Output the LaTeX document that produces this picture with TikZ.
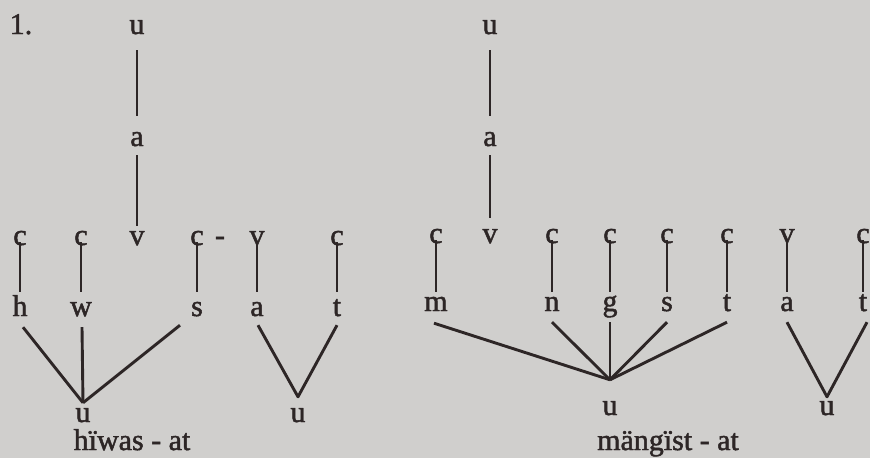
\documentclass[tikz,border=0pt]{standalone}
\usepackage{fontspec}
\setmainfont{Liberation Serif}
\newfontfamily\heavyserif{Liberation Serif}[FakeBold=1.6]
\definecolor{paper}{RGB}{208,207,205}
\definecolor{ink}{RGB}{45,38,38}
\begin{document}
\begin{tikzpicture}[x=1pt,y=-1pt,
  lt/.style={font=\heavyserif\fontsize{30}{32}\selectfont, text=ink, inner sep=0pt, anchor=base, text height=13pt, text depth=0pt},
  ln/.style={draw=ink, line width=2.9pt},
  vln/.style={ln, shorten <=-3pt, shorten >=#1},
  vln/.default=11pt
]
\fill[paper] (0,0) rectangle (870,458);
\useasboundingbox (0,0) rectangle (870,458);

% ---------- left diagram ----------
\node[lt] (one) at (21,34) {1.};
\node[lt] (uL) at (137,34) {u};
\node[lt] (aL) at (137,146) {a};
\node[lt] (vL) at (137,245) {v};
\draw[ln, shorten <=16pt, shorten >=17pt] (uL.south) -- (aL.north);
\draw[ln, shorten <=9pt, shorten >=6pt] (aL.south) -- (vL.north);

\node[lt] (cA) at (20,245) {c};
\node[lt] (cB) at (81,245) {c};
\node[lt] (cC) at (197,245) {c};
\node[lt] (dash) at (220,245) {-};
\node[lt] (vA) at (257,245) {v};
\node[lt] (cD) at (337,245) {c};

\node[lt] (h) at (20,316) {h};
\node[lt] (w) at (81,316) {w};
\node[lt] (sL) at (197,316) {s};
\node[lt] (aLL) at (257,316) {a};
\node[lt] (tL) at (337,316) {t};

\draw[vln] (cA.south) -- (h.north);
\draw[vln] (cB.south) -- (w.north);
\draw[vln] (cC.south) -- (sL.north);
\draw[vln] (vA.south) -- (aLL.north);
\draw[vln] (cD.south) -- (tL.north);

\node[lt] (uL1) at (83,422) {u};
\node[lt] (uL2) at (298,422) {u};
\draw[ln] ([shift={(3pt,-11pt)}]h.south) -- ([yshift=6pt]uL1.north);
\draw[ln] ([shift={(1pt,-11pt)}]w.south) -- ([yshift=6pt]uL1.north);
\draw[ln] ([shift={(-17pt,-9pt)}]sL.south) -- ([yshift=6pt]uL1.north);
\draw[ln, line join=round] ([shift={(1pt,-9pt)}]aLL.south) -- ([yshift=12pt]uL2.north) -- ([shift={(0pt,-9pt)}]tL.south);

\node[lt] (capL) at (132,450) {hïwas - at};

% ---------- right diagram ----------
\node[lt] (uR) at (490,34) {u};
\node[lt] (aR) at (490,146) {a};
\node[lt] (vR) at (490,243) {v};
\draw[ln, shorten <=16pt, shorten >=17pt] (uR.south) -- (aR.north);
\draw[ln, shorten <=9pt, shorten >=12pt] (aR.south) -- (vR.north);

\node[lt] (cE) at (436,243) {c};
\node[lt] (cF) at (552,243) {c};
\node[lt] (cG) at (610,243) {c};
\node[lt] (cH) at (667,243) {c};
\node[lt] (cI) at (727,243) {c};
\node[lt] (vB) at (787,243) {v};
\node[lt] (cJ) at (863,243) {c};

\node[lt] (m) at (436,311) {m};
\node[lt] (n) at (552,311) {n};
\node[lt] (g) at (610,311) {g};
\node[lt] (sR) at (667,311) {s};
\node[lt] (tR) at (727,311) {t};
\node[lt] (aRR) at (787,311) {a};
\node[lt] (tRR) at (863,311) {t};

\draw[vln=6pt] (cE.south) -- (m.north);
\draw[vln=6pt] (cF.south) -- (n.north);
\draw[vln=6pt] (cG.south) -- (g.north);
\draw[vln=6pt] (cH.south) -- (sR.north);
\draw[vln=6pt] (cI.south) -- (tR.north);
\draw[vln=6pt] (vB.south) -- (aRR.north);
\draw[vln=6pt] (cJ.south) -- (tRR.north);

\node[lt] (uR1) at (610,415) {u};
\node[lt] (uR2) at (827,415) {u};
\draw[ln] ([shift={(-2pt,-12pt)}]m.south) -- ([yshift=22pt]uR1.north);
\draw[ln] ([yshift=-11pt]n.south) -- ([yshift=22pt]uR1.north);
\draw[ln] ([yshift=-11pt]g.south) -- ([yshift=22pt]uR1.north);
\draw[ln] ([yshift=-11pt]sR.south) -- ([yshift=22pt]uR1.north);
\draw[ln] ([yshift=-11pt]tR.south) -- ([yshift=22pt]uR1.north);
\draw[ln, line join=round] ([shift={(0pt,-11pt)}]aRR.south) -- ([yshift=5pt]uR2.north) -- ([shift={(4pt,-11pt)}]tRR.south);

\node[lt] (capR) at (668,450) {mängïst - at};
\end{tikzpicture}
\end{document}
